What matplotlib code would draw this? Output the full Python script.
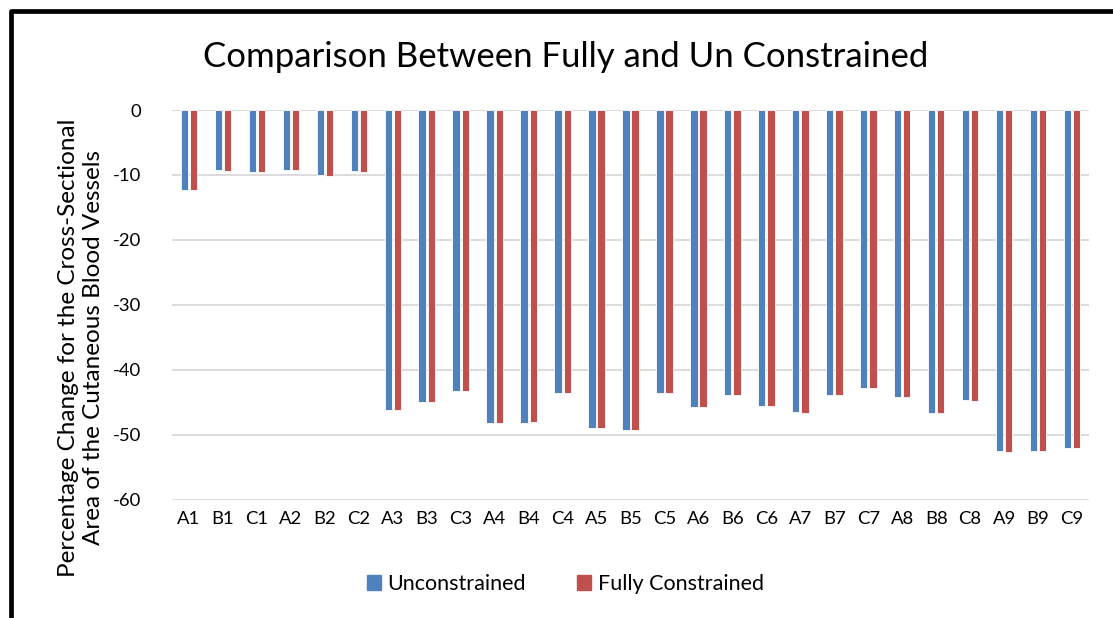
import matplotlib
matplotlib.use("Agg")
import matplotlib.pyplot as plt
import numpy as np
from matplotlib.lines import Line2D
from matplotlib.patches import Patch

plt.rcParams['font.family'] = ['Lato', 'DejaVu Sans']

# sample locations and percentage change of vessel area
locations = ['A1', 'B1', 'C1', 'A2', 'B2', 'C2', 'A3', 'B3', 'C3',
             'A4', 'B4', 'C4', 'A5', 'B5', 'C5', 'A6', 'B6', 'C6',
             'A7', 'B7', 'C7', 'A8', 'B8', 'C8', 'A9', 'B9', 'C9']
unconstrained = [-12.3, -9.3, -9.6, -9.2, -10.0, -9.4, -46.1, -45.0, -43.2,
                 -48.2, -48.1, -43.5, -48.9, -49.2, -43.5, -45.7, -43.9, -45.5,
                 -46.5, -43.9, -42.8, -44.2, -46.6, -44.6, -52.5, -52.4, -52.0]
fully_constrained = [-12.3, -9.4, -9.6, -9.2, -10.1, -9.5, -46.2, -45.0, -43.2,
                     -48.2, -48.0, -43.6, -48.9, -49.3, -43.6, -45.7, -43.8, -45.5,
                     -46.6, -43.9, -42.8, -44.2, -46.6, -44.7, -52.6, -52.4, -52.0]
yticks = [0, -10, -20, -30, -40, -50, -60]

blue = '#4f81bd'
red = '#c0504d'

fig = plt.figure(figsize=(11.13, 6.18), dpi=100)
ax = fig.add_axes([0.1545, 0.191, 0.824, 0.631])

x = np.arange(len(locations))
w = 0.215
ax.bar(x - 0.135, unconstrained, w, color=blue, edgecolor='white', linewidth=0.6, zorder=3)
ax.bar(x + 0.135, fully_constrained, w, color=red, edgecolor='white', linewidth=0.6, zorder=3)

ax.set_xlim(-0.5, len(locations) - 0.5)
ax.set_ylim(-60, 0)
ax.set_yticks(yticks)
ax.set_yticklabels([str(t) for t in yticks])
ax.set_xticks(x)
ax.set_xticklabels(locations)
ax.tick_params(axis='both', length=0, labelsize=13.3, colors='#000000')
ax.tick_params(axis='y', pad=22)
ax.tick_params(axis='x', pad=8)
ax.grid(axis='y', color='#d9d9d9', linewidth=1.3, zorder=0)
for s in ax.spines.values():
    s.set_visible(False)

fig.text(0.508, 0.908, 'Comparison Between Fully and Un Constrained',
         ha='center', va='center', fontsize=25)
fig.text(0.0725, 0.438,
         'Percentage Change for the Cross-Sectional\nArea of the Cutaneous Blood Vessels',
         ha='center', va='center', rotation=90, fontsize=17.5, linespacing=1.25)

handles = [Patch(color=blue), Patch(color=red)]
fig.legend(handles, ['Unconstrained', 'Fully Constrained'], loc='center',
           bbox_to_anchor=(0.508, 0.055), ncol=2, frameon=False, fontsize=15.5,
           handlelength=0.65, handleheight=0.65, handletextpad=0.3, columnspacing=2.4)

# thick frame on the left and top edges
fig.add_artist(Line2D([0.0099, 0.0099, 1.01], [-0.01, 0.982, 0.982],
                      transform=fig.transFigure, color='black', linewidth=3.4,
                      solid_joinstyle='round'))

fig.savefig('out.png', dpi=100, facecolor='white')
